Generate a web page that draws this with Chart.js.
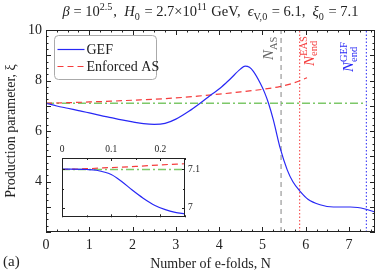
<!DOCTYPE html>
<html>
<head>
<meta charset="utf-8">
<script src="https://cdn.jsdelivr.net/npm/chart.js@4.4.0/dist/chart.umd.min.js"></script>
<style>
  body { margin: 0; background: #fff; }
  #wrap { position: relative; width: 377px; height: 274px; }
  canvas { display: block; }
  #inset { position: absolute; left: 50px; top: 144px; }
</style>
</head>
<body>
<div id="wrap">
  <canvas id="main" width="377" height="274"></canvas>
  <canvas id="inset" width="160" height="82"></canvas>
</div>
<script>
// --- data ---
const gefN  = [0, 0.25, 0.5, 0.75, 1, 1.25, 1.5, 1.75, 2, 2.25, 2.5, 2.75, 3, 3.3, 3.56, 3.8, 4.02, 4.25, 4.49, 4.6, 4.7, 4.79, 4.95, 5.05, 5.14, 5.25, 5.41, 5.57, 5.7, 5.87, 6.05, 6.33, 6.64, 7.03, 7.2, 7.37, 7.6];
const gefXi = [7.10, 6.99, 6.90, 6.81, 6.72, 6.62, 6.53, 6.44, 6.36, 6.29, 6.26, 6.30, 6.47, 6.78, 7.10, 7.42, 7.69, 8.05, 8.45, 8.57, 8.52, 8.36, 7.89, 7.52, 7.10, 6.45, 5.32, 4.47, 4.00, 3.61, 3.30, 3.08, 2.99, 2.99, 2.97, 2.91, 2.79];
const easN  = [0, 0.5, 1, 1.5, 2, 2.5, 3, 3.5, 4, 4.5, 5, 5.4, 5.7, 6.03];
const easXi = [7.10, 7.12, 7.15, 7.18, 7.22, 7.26, 7.31, 7.38, 7.46, 7.55, 7.65, 7.76, 7.89, 8.11];
const xi0 = 7.1;
const nAS = 5.43, nEndEAS = 5.86, nEndGEF = 7.4;

const xTicks = [0, 1, 2, 3, 4, 5, 6, 7];
const yTicks = [4, 6, 8, 10];

// inset (zoom on the first e-folds)
const insetN     = [0, 0.05, 0.07, 0.1, 0.12, 0.142, 0.165, 0.189, 0.21, 0.23, 0.25];
const insetGef   = [7.101, 7.100, 7.098, 7.087, 7.070, 7.047, 7.025, 7.006, 6.995, 6.988, 6.984];
const insetEasN  = [0, 0.05, 0.1, 0.15, 0.2, 0.25];
const insetEas   = [7.100, 7.102, 7.105, 7.108, 7.112, 7.115];
const insetXTicks = [0, 0.1, 0.2];
const insetYTicks = [7, 7.1];

const BLUE = 'rgb(40,40,245)', RED = 'rgb(245,60,60)', GREEN = 'rgb(125,200,105)', GRAY = '#999';
const FAM = "'Liberation Serif', 'DejaVu Serif', serif";
Chart.defaults.font.family = FAM;
Chart.defaults.color = '#222';

const pts = (xs, ys) => xs.map((x, i) => ({x: x, y: ys[i]}));
const font = (size, it) => (it ? 'italic ' : '') + size + 'px ' + FAM;

// draws text made of pieces: {t, it} normal, {sup, sub} stacked scripts
function rich(ctx, parts, x, y, size, dry) {
  let cx = x;
  for (const p of parts) {
    if (p.t !== undefined) {
      ctx.font = font(size, p.it);
      if (!dry) ctx.fillText(p.t, cx, y);
      cx += ctx.measureText(p.t).width;
    } else {
      let w = 0;
      const s = size * 0.7;
      if (p.sup) {
        ctx.font = font(s, false);
        if (!dry) ctx.fillText(p.sup, cx, y - size * 0.42);
        w = Math.max(w, ctx.measureText(p.sup).width);
      }
      if (p.sub) {
        ctx.font = font(s, false);
        if (!dry) ctx.fillText(p.sub, cx, y + size * 0.25);
        w = Math.max(w, ctx.measureText(p.sub).width);
      }
      cx += w + 1;
    }
  }
  return cx - x;
}

const frameTicks = {
  id: 'frameTicks',
  afterDatasetsDraw(chart, args, o) {
    const {ctx, chartArea: a} = chart;
    const x = chart.scales.x, y = chart.scales.y;
    const steps = (min, max, s) => {
      const out = [];
      for (let k = Math.ceil(min / s - 1e-9); k <= Math.floor(max / s + 1e-9); k++) out.push(k * s);
      return out;
    };
    const major = (v, m) => Math.abs(v / m - Math.round(v / m)) < 1e-6;
    ctx.save();
    ctx.strokeStyle = o.color;
    ctx.lineWidth = 1;
    ctx.beginPath();
    steps(x.min, x.max, o.xMinor).forEach(v => {
      const px = Math.round(x.getPixelForValue(v)) + 0.5;
      const len = major(v, o.xMajor) ? o.major : o.minor;
      ctx.moveTo(px, a.bottom); ctx.lineTo(px, a.bottom - len);
      ctx.moveTo(px, a.top); ctx.lineTo(px, a.top + len);
    });
    steps(y.min, y.max, o.yMinor).forEach(v => {
      const py = Math.round(y.getPixelForValue(v)) + 0.5;
      const len = major(v, o.yMajor) ? o.major : o.minor;
      ctx.moveTo(a.left, py); ctx.lineTo(a.left + len, py);
      ctx.moveTo(a.right, py); ctx.lineTo(a.right - len, py);
    });
    ctx.stroke();
    ctx.lineWidth = o.width;
    ctx.strokeRect(Math.round(a.left) + 0.5, Math.round(a.top) + 0.5, Math.round(a.width) - 1, Math.round(a.height) - 1);
    ctx.restore();
  }
};

const annotations = {
  id: 'annotations',
  afterDraw(chart) {
    const {ctx, chartArea: a} = chart;
    const x = chart.scales.x;
    ctx.save();
    ctx.textBaseline = 'alphabetic';
    ctx.textAlign = 'left';
    ctx.fillStyle = '#222';

    // title
    const title = [
      {t: 'β', it: true}, {t: ' = 10'}, {sup: '2.5'}, {t: ',  '},
      {t: 'H', it: true}, {sub: '0'}, {t: ' = 2.7×10'}, {sup: '11'}, {t: ' GeV,  '},
      {t: 'ϵ', it: true}, {sub: 'V,0'}, {t: ' = 6.1,  '},
      {t: 'ξ', it: true}, {sub: '0'}, {t: ' = 7.1'}
    ];
    const tw = rich(ctx, title, 0, 0, 14.5, true);
    rich(ctx, title, (a.left + a.right) / 2 - tw / 2, 16, 14.5);

    // panel tag
    ctx.font = font(15, false);
    ctx.fillText('(a)', 3, 266);

    // vertical line labels
    const vlabel = (parts, bx, by, color) => {
      ctx.save();
      ctx.fillStyle = color;
      ctx.translate(bx, by);
      ctx.rotate(-Math.PI / 2);
      rich(ctx, parts, 0, 0, 15);
      ctx.restore();
    };
    vlabel([{t: 'N', it: true}, {sub: 'AS'}], x.getPixelForValue(nAS) - 8, 60, '#666');
    vlabel([{t: 'N', it: true}, {sup: 'EAS', sub: 'end'}], x.getPixelForValue(nEndEAS) + 14, 66, RED);
    vlabel([{t: 'N', it: true}, {sup: 'GEF', sub: 'end'}], x.getPixelForValue(nEndGEF) - 13, 72, BLUE);

    // legend box
    const bx = 54.5, by = 35.5, bw = 102, bh = 44;
    ctx.beginPath();
    ctx.roundRect(bx, by, bw, bh, 4);
    ctx.fillStyle = '#fff';
    ctx.fill();
    ctx.strokeStyle = '#aaa';
    ctx.lineWidth = 1;
    ctx.stroke();
    chart.data.datasets.slice(0, 2).forEach((ds, i) => {
      const ly = by + 14 + i * 17;
      ctx.beginPath();
      ctx.strokeStyle = ds.borderColor;
      ctx.lineWidth = ds.borderWidth;
      ctx.setLineDash(ds.borderDash || []);
      ctx.moveTo(bx + 3, ly); ctx.lineTo(bx + 30, ly);
      ctx.stroke();
      ctx.setLineDash([]);
      ctx.fillStyle = '#222';
      ctx.font = font(14, false);
      ctx.textBaseline = 'middle';
      ctx.fillText(ds.label, bx + 32, ly + 1);
    });
    ctx.restore();
  }
};

const vline = (n, color, dash, w) => ({
  label: '', data: [{x: n, y: 2}, {x: n, y: 10}],
  borderColor: color, borderDash: dash, borderWidth: w, pointRadius: 0
});

new Chart(document.getElementById('main'), {
  type: 'line',
  data: {
    datasets: [
      { label: 'GEF', data: pts(gefN, gefXi), borderColor: BLUE, borderWidth: 1.2, pointRadius: 0, cubicInterpolationMode: 'monotone' },
      { label: 'Enforced AS', data: pts(easN, easXi), borderColor: RED, borderWidth: 1.2, borderDash: [6, 4], pointRadius: 0, cubicInterpolationMode: 'monotone' },
      { label: '', data: [{x: 0, y: xi0}, {x: nEndGEF, y: xi0}], borderColor: GREEN, borderWidth: 1.5, borderDash: [8, 3, 2, 3], pointRadius: 0 },
      vline(nAS, GRAY, [5, 4], 1.2),
      vline(nEndEAS, RED, [1.5, 2], 1),
      vline(nEndGEF, BLUE, [1.5, 2], 1)
    ]
  },
  options: {
    responsive: false,
    animation: false,
    events: [],
    layout: { padding: { top: 30, right: 2, left: 0, bottom: 0 } },
    plugins: {
      legend: { display: false },
      tooltip: { enabled: false },
      frameTicks: { color: '#222', width: 1, xMajor: 1, xMinor: 0.25, yMajor: 1, yMinor: 0.25, major: 5, minor: 2.5 }
    },
    scales: {
      x: {
        type: 'linear', min: 0, max: 7.6,
        grid: { display: false, drawTicks: false }, border: { display: false },
        afterBuildTicks: s => { s.ticks = xTicks.map(v => ({value: v})); },
        afterFit: s => { s.height = 42; },
        ticks: { font: { size: 14 }, padding: 5, maxRotation: 0 },
        title: { display: true, text: 'Number of e-folds, N', font: { size: 14 }, padding: { top: 0, bottom: 1 } }
      },
      y: {
        type: 'linear', min: 2, max: 10,
        grid: { display: false, drawTicks: false }, border: { display: false },
        afterBuildTicks: s => { s.ticks = yTicks.map(v => ({value: v})); },
        afterFit: s => { s.width = 46; },
        ticks: { font: { size: 14 }, padding: 4 },
        title: { display: true, text: 'Production parameter, ξ', font: { size: 14 }, padding: { top: 3, bottom: 0 } }
      }
    }
  },
  plugins: [frameTicks, annotations]
});

const whiteBack = {
  id: 'whiteBack',
  beforeDraw(chart) {
    const {ctx, chartArea: a} = chart;
    ctx.save();
    ctx.fillStyle = '#fff';
    ctx.fillRect(a.left, a.top, a.width, a.height);
    ctx.restore();
  }
};

new Chart(document.getElementById('inset'), {
  type: 'line',
  data: {
    datasets: [
      { data: pts(insetN, insetGef), borderColor: BLUE, borderWidth: 1.2, pointRadius: 0, cubicInterpolationMode: 'monotone' },
      { data: pts(insetEasN, insetEas), borderColor: RED, borderWidth: 1.2, borderDash: [6, 4], pointRadius: 0, cubicInterpolationMode: 'monotone' },
      { data: [{x: 0, y: xi0}, {x: 0.25, y: xi0}], borderColor: GREEN, borderWidth: 1.5, borderDash: [8, 3, 2, 3], pointRadius: 0 }
    ]
  },
  options: {
    responsive: false,
    animation: false,
    events: [],
    layout: { padding: { top: 0, right: 0, left: 12, bottom: 7 } },
    plugins: {
      legend: { display: false },
      tooltip: { enabled: false },
      frameTicks: { color: '#222', width: 1, xMajor: 0.1, xMinor: 0.05, yMajor: 0.1, yMinor: 0.05, major: 3, minor: 2 }
    },
    scales: {
      x: {
        type: 'linear', position: 'top', min: 0, max: 0.25,
        grid: { display: false, drawTicks: false }, border: { display: false },
        afterBuildTicks: s => { s.ticks = insetXTicks.map(v => ({value: v})); },
        afterFit: s => { s.height = 14; },
        ticks: { font: { size: 9.5 }, padding: 3, maxRotation: 0, callback: v => String(v) }
      },
      y: {
        type: 'linear', position: 'right', min: 6.975, max: 7.13,
        grid: { display: false, drawTicks: false }, border: { display: false },
        afterBuildTicks: s => { s.ticks = insetYTicks.map(v => ({value: v})); },
        afterFit: s => { s.width = 25; },
        ticks: { font: { size: 9.5 }, padding: 3, callback: v => String(v) }
      }
    }
  },
  plugins: [whiteBack, frameTicks]
});
</script>
</body>
</html>
